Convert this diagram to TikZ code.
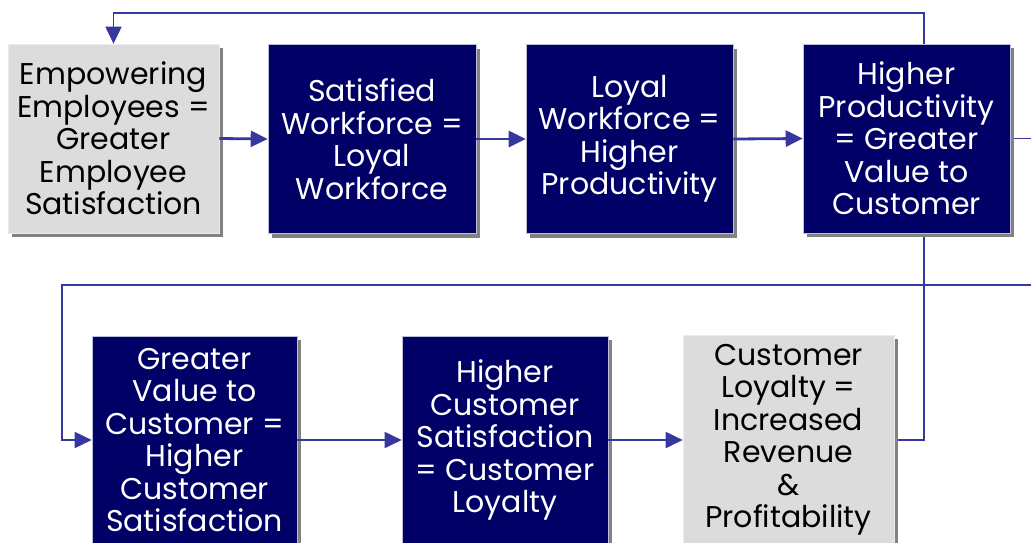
\documentclass[tikz,border=0pt]{standalone}
\usepackage{fontspec}
\setmainfont{Poppins}
\usetikzlibrary{arrows.meta,shadows,backgrounds}
\definecolor{navy}{RGB}{0,0,102}
\definecolor{boxgray}{RGB}{220,220,220}
\definecolor{shadowgray}{RGB}{130,130,130}
\definecolor{linkblue}{RGB}{55,55,160}
\begin{document}
\begin{tikzpicture}[x=1pt,y=-1pt,
  base/.style={rectangle, inner sep=0pt, align=center,
    font=\fontsize{30}{32.5}\selectfont,
    drop shadow={shadow xshift=4pt, shadow yshift=-4pt, fill=shadowgray, opacity=1}},
  navybox/.style={base, fill=navy, draw=white!75!navy, line width=0.6pt, text=white},
  graybox/.style={base, fill=boxgray, draw=white!85!gray, line width=0.6pt, text=black},
  toprow/.style={minimum height=189pt},
  botrow/.style={minimum height=208pt},
  conn/.style={draw=linkblue, line width=1.8pt, -{Triangle[length=17pt,width=16pt]}},
  thickconn/.style={conn, line width=2.8pt}]
\useasboundingbox (0,0) rectangle (1031,542);

\node[graybox, toprow, minimum width=211pt] (b1) at (113.5,138.5)
  {Empowering\\Employees =\\Greater\\Employee\\Satisfaction};
\node[navybox, toprow, minimum width=208pt] (b2) at (372,139)
  {Satisfied\\Workforce =\\Loyal\\Workforce};
\node[navybox, toprow, minimum width=207pt] (b3) at (629.5,139)
  {Loyal\\Workforce =\\Higher\\Productivity};
\node[navybox, toprow, minimum width=207pt] (b4) at (906.5,138.5)
  {Higher\\Productivity\\= Greater\\Value to\\Customer};
\node[navybox, botrow, minimum width=205pt] (b5) at (194.5,440)
  {Greater\\Value to\\Customer =\\Higher\\Customer\\Satisfaction};
\node[navybox, botrow, minimum width=206pt] (b6) at (505,440)
  {Higher\\Customer\\Satisfaction\\= Customer\\Loyalty};
\node[graybox, botrow, minimum width=211pt, minimum height=210pt] (b7) at (788.5,440)
  {Customer\\Loyalty =\\Increased\\Revenue\\\&\\Profitability};

\coordinate (wrapR) at (1060,285);
\coordinate (wrapL) at (62,285);
\coordinate (loopTop) at (924,13);

\begin{pgfonlayer}{background}
  \draw[conn] (b4.east) -| (wrapR) -- (wrapL) |- (b5.west);
  \draw[conn] (b7.east) -| (loopTop) -| (b1.north);
\end{pgfonlayer}

\draw[thickconn] (b1.east) -- (b2.west);
\draw[thickconn] (b2.east) -- (b3.west);
\draw[thickconn] (b3.east) -- (b4.west);
\draw[conn] (b5.east) -- (b6.west);
\draw[conn] (b6.east) -- (b7.west);
\end{tikzpicture}
\end{document}
